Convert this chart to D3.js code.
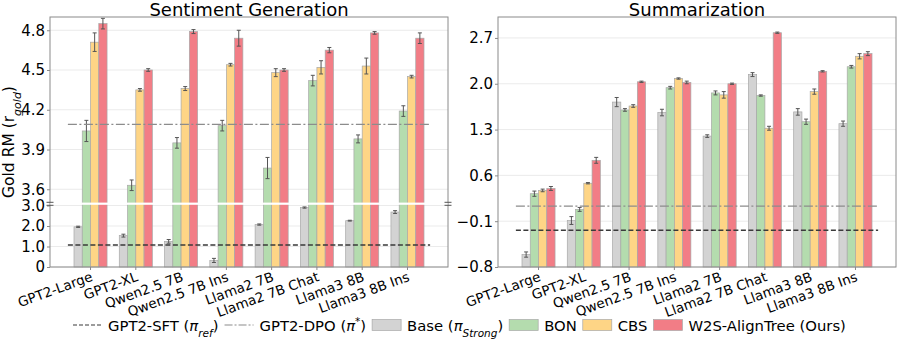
<!DOCTYPE html>
<html>
<head>
<meta charset="utf-8">
<script src="https://cdn.jsdelivr.net/npm/d3@7"></script>
<style>
  body { margin: 0; background: #fff; }
  text { font-family: "DejaVu Sans", sans-serif; fill: #000; }
</style>
</head>
<body>
<svg id="chart" width="897" height="345"></svg>
<script>
// ************** data **************************************
var categories = ["GPT2-Large", "GPT2-XL", "Qwen2.5 7B", "Qwen2.5 7B Ins",
                  "Llama2 7B", "Llama2 7B Chat", "Llama3 8B", "Llama3 8B Ins"];
var seriesNames = ["Base", "BON", "CBS", "W2S"];

// Sentiment Generation
var sentBase    = [1.96, 1.53, 1.25, 0.32, 2.07, 2.90, 2.26, 2.68];
var sentBaseErr = [0.03, 0.07, 0.09, 0.10, 0.03, 0.03, 0.02, 0.07];
var sentBon     = [4.04, 3.63, 3.95, 4.08, 3.76, 4.42, 3.98, 4.19];
var sentBonErr  = [0.08, 0.04, 0.04, 0.04, 0.08, 0.04, 0.03, 0.04];
var sentCbs     = [4.71, 4.35, 4.36, 4.54, 4.48, 4.52, 4.53, 4.45];
var sentCbsErr  = [0.07, 0.01, 0.015, 0.01, 0.03, 0.05, 0.06, 0.01];
var sentOurs    = [4.85, 4.50, 4.79, 4.74, 4.50, 4.65, 4.78, 4.74];
var sentOursErr = [0.04, 0.01, 0.015, 0.06, 0.01, 0.02, 0.01, 0.04];
var sentSft = 1.07, sentDpo = 4.09;

// Summarization
var sumBase    = [-0.61, -0.09, 1.72, 1.56, 1.20, 2.14, 1.57, 1.39];
var sumBaseErr = [0.04, 0.06, 0.07, 0.05, 0.02, 0.03, 0.05, 0.04];
var sumBon     = [0.32, 0.08, 1.60, 1.94, 1.86, 1.82, 1.42, 2.26];
var sumBonErr  = [0.04, 0.03, 0.02, 0.02, 0.03, 0.01, 0.04, 0.02];
var sumCbs     = [0.37, 0.48, 1.66, 2.08, 1.83, 1.32, 1.88, 2.42];
var sumCbsErr  = [0.02, 0.01, 0.02, 0.01, 0.05, 0.03, 0.04, 0.04];
var sumOurs    = [0.40, 0.83, 2.03, 2.02, 2.00, 2.78, 2.19, 2.46];
var sumOursErr = [0.03, 0.045, 0.01, 0.02, 0.01, 0.01, 0.01, 0.03];
var sumSft = -0.24, sumDpo = 0.13;

var sentTicks = [0, 1, 2, 3, 3.6, 3.9, 4.2, 4.5, 4.8];
var sumTicks  = [-0.8, -0.1, 0.6, 1.3, 2.0, 2.7];

var colors = ["#d3d3d3", "#b4dcae", "#fed586", "#f27d86"];

// ************** layout *****************
var svg = d3.select("#chart");
var top_ = 17, bottom = 267, plotW = 398;

var x = d3.scaleBand().domain(categories).range([0, plotW])
	.paddingInner(0.27).paddingOuter(0.53);
var xs = d3.scaleBand().domain(seriesNames).range([0, x.bandwidth()]);

//	piecewise scale for the broken axis
var ySent = d3.scaleLinear().domain([0, 3, 3.5, 4.9]).range([bottom, 205.5, 202.5, top_]);
var ySum  = d3.scaleLinear().domain([-0.8, 3.02]).range([bottom, top_]);

function drawPanel(left, title, y, ticks, fmt, vals, errs, sft, dpo, base) {
	var g = svg.append("g").attr("transform", "translate(" + left + ",0)");

	//	grid
	g.selectAll(".grid").data(ticks).enter().append("line")
		.attr("x1", 0).attr("x2", plotW)
		.attr("y1", d => y(d)).attr("y2", d => y(d))
		.attr("stroke", "#e6e6e6").attr("stroke-width", 0.8);

	//	bars
	seriesNames.forEach(function(s, si) {
		var grp = g.append("g");
		grp.selectAll("rect").data(vals[si]).enter().append("rect")
			.attr("x", (d, i) => x(categories[i]) + xs(s))
			.attr("width", xs.bandwidth())
			.attr("y", d => y(d))
			.attr("height", d => y(base) - y(d))
			.attr("fill", colors[si])
			.attr("stroke", "#a8a8a8").attr("stroke-width", 0.7);
		//	error bars
		var eb = grp.selectAll(".eb").data(vals[si]).enter().append("g")
			.attr("transform", (d, i) => "translate(" + (x(categories[i]) + xs(s) + xs.bandwidth() / 2) + ",0)");
		eb.append("line")
			.attr("y1", (d, i) => y(d - errs[si][i])).attr("y2", (d, i) => y(d + errs[si][i]))
			.attr("stroke", "#555").attr("stroke-width", 1);
		[-1, 1].forEach(function(sg) {
			eb.append("line")
				.attr("x1", -2).attr("x2", 2)
				.attr("y1", (d, i) => y(d + sg * errs[si][i])).attr("y2", (d, i) => y(d + sg * errs[si][i]))
				.attr("stroke", "#555").attr("stroke-width", 1);
		});
	});

	//	reference lines, spanning -0.5 .. 7.5 in group units
	var x0 = x(categories[0]) + x.bandwidth() / 2 - x.step() / 2;
	var x1 = x(categories[7]) + x.bandwidth() / 2 + x.step() / 2;
	g.append("line").attr("x1", x0).attr("x2", x1).attr("y1", y(dpo)).attr("y2", y(dpo))
		.attr("stroke", "#8c8c8c").attr("stroke-width", 1.3).attr("stroke-dasharray", "9,2.5,2,2.5");
	g.append("line").attr("x1", x0).attr("x2", x1).attr("y1", y(sft)).attr("y2", y(sft))
		.attr("stroke", "#3a3a3a").attr("stroke-width", 1.5).attr("stroke-dasharray", "5,2.5");

	//	frame
	g.append("rect").attr("x", 0).attr("y", top_).attr("width", plotW).attr("height", bottom - top_)
		.attr("fill", "none").attr("stroke", "#8a8a8a").attr("stroke-width", 1);

	//	y axis
	var ya = g.append("g").call(d3.axisLeft(y).tickValues(ticks).tickFormat(fmt).tickSize(3).tickPadding(2));
	ya.select(".domain").remove();
	ya.selectAll("line").attr("stroke", "#8a8a8a");
	ya.selectAll("text").style("font-size", "15px").style("font-family", "DejaVu Sans");

	//	x axis
	var xa = g.append("g").attr("transform", "translate(0," + bottom + ")");
	xa.selectAll("line").data(categories).enter().append("line")
		.attr("x1", d => x(d) + x.bandwidth() / 2).attr("x2", d => x(d) + x.bandwidth() / 2)
		.attr("y1", 0).attr("y2", 3).attr("stroke", "#8a8a8a");
	xa.selectAll("text").data(categories).enter().append("text")
		.attr("transform", d => "translate(" + (x(d) + x.bandwidth() / 2 + 3) + ",13.5) rotate(-20)")
		.attr("text-anchor", "end")
		.style("font-size", "13.5px")
		.text(d => d);

	//	title
	g.append("text").attr("x", plotW / 2).attr("y", 16).attr("text-anchor", "middle")
		.style("font-size", "18px").text(title);
	return g;
}

var fmt1 = d3.format(".1f");
var gl = drawPanel(50, "Sentiment Generation", ySent, sentTicks,
	d => d === 0 ? "0" : fmt1(d),
	[sentBase, sentBon, sentCbs, sentOurs], [sentBaseErr, sentBonErr, sentCbsErr, sentOursErr],
	sentSft, sentDpo, 0);
var gr = drawPanel(498, "Summarization", ySum, sumTicks,
	d => fmt1(d).replace("-", "\u2212"),
	[sumBase, sumBon, sumCbs, sumOurs], [sumBaseErr, sumBonErr, sumCbsErr, sumOursErr],
	sumSft, sumDpo, -0.8);

//	axis break: white band across the bars + "=" marks on both spines
gl.append("rect").attr("x", 0.5).attr("y", 202.6).attr("width", plotW - 1).attr("height", 2.2).attr("fill", "#fff");
[0, plotW].forEach(function(bx) {
	[202.3, 205.3].forEach(function(by) {
		gl.append("line").attr("x1", bx - 3.5).attr("x2", bx + 3.5).attr("y1", by).attr("y2", by)
			.attr("stroke", "#555").attr("stroke-width", 1);
	});
});

//	y label
var yl = svg.append("text").attr("transform", "translate(14,142) rotate(-90)")
	.attr("text-anchor", "middle").style("font-size", "15.5px");
yl.append("tspan").text("Gold RM (r");
yl.append("tspan").attr("baseline-shift", "sub").style("font-size", "11px").style("font-style", "italic").text("gold");
yl.append("tspan").text(")");

// ************** legend *****************
var leg = svg.append("g").attr("transform", "translate(0,325)");
var cx = 73;
function legText(parts) {
	var t = leg.append("text").attr("x", cx).attr("y", 5.5).style("font-size", "14.8px");
	parts.forEach(function(p) {
		var ts = t.append("tspan").text(p.t);
		if (p.it) ts.style("font-style", "italic");
		if (p.sub) ts.attr("baseline-shift", "sub").style("font-size", "10.5px");
		if (p.sup) ts.attr("baseline-shift", "super").style("font-size", "10.5px");
	});
	cx += t.node().getComputedTextLength() + 6;
}
function legLine(stroke, dash, w) {
	leg.append("line").attr("x1", cx).attr("x2", cx + 29).attr("y1", 0).attr("y2", 0)
		.attr("stroke", stroke).attr("stroke-dasharray", dash).attr("stroke-width", w);
	cx += 35;
}
function legPatch(c) {
	leg.append("rect").attr("x", cx).attr("y", -5.5).attr("width", 29).attr("height", 11)
		.attr("fill", c).attr("stroke", "#a8a8a8").attr("stroke-width", 0.7);
	cx += 35;
}
legLine("#3a3a3a", "4,2", 1.2);
legText([{t: "GPT2-SFT ("}, {t: "\u03c0", it: 1}, {t: "ref", it: 1, sub: 1}, {t: ")"}]);
legLine("#8c8c8c", "8,2,2,2", 1.1);
legText([{t: "GPT2-DPO ("}, {t: "\u03c0", it: 1}, {t: "*", sup: 1}, {t: ")"}]);
legPatch(colors[0]);
legText([{t: "Base ("}, {t: "\u03c0", it: 1}, {t: "Strong", it: 1, sub: 1}, {t: ")"}]);
legPatch(colors[1]);
legText([{t: "BON"}]);
legPatch(colors[2]);
legText([{t: "CBS"}]);
legPatch(colors[3]);
legText([{t: "W2S-AlignTree (Ours)"}]);
</script>
</body>
</html>
